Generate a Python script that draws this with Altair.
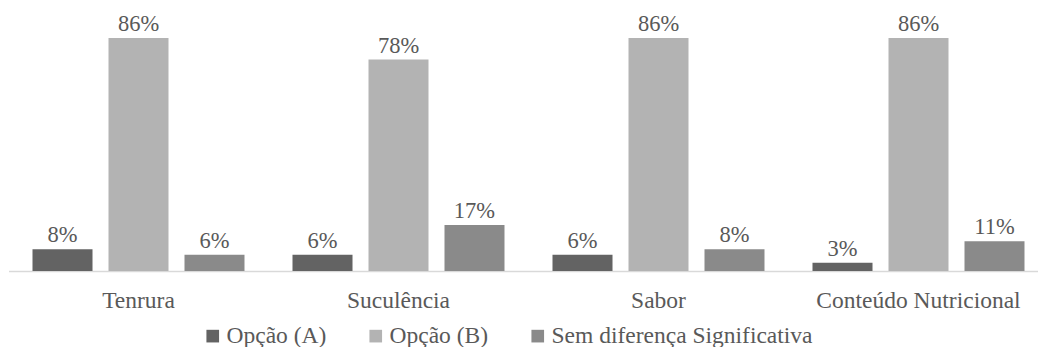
import altair as alt
import pandas as pd

# Survey results per attribute (percent of respondents)
categories = ["Tenrura", "Suculência", "Sabor", "Conteúdo Nutricional"]
series = ["Opção (A)", "Opção (B)", "Sem diferença Significativa"]
opcao_a = [8, 6, 6, 3]
opcao_b = [86, 78, 86, 86]
sem_diferenca = [6, 17, 8, 11]
colors = ["#636363", "#b3b3b3", "#8a8a8a"]

rows = []
for i, cat in enumerate(categories):
    for name, vals in zip(series, [opcao_a, opcao_b, sem_diferenca]):
        rows.append({"categoria": cat, "serie": name, "valor": vals[i],
                     "rotulo": f"{vals[i]}%"})
df = pd.DataFrame(rows)

font = "Liberation Serif"
text_color = "#595959"
font_size = 23.5

x = alt.X(
    "categoria:N",
    sort=categories,
    scale=alt.Scale(range=[0.5, 1040.5], paddingInner=0, paddingOuter=0),
    axis=alt.Axis(title=None, labelAngle=0, ticks=False, grid=False,
                  labelPadding=17, labelFont=font, labelFontSize=font_size,
                  labelColor=text_color, domainColor="#d9d9d9",
                  domainWidth=1.5, labelOverlap=False, labelLimit=0),
)
x_off = alt.XOffset("serie:N", sort=series,
                    scale=alt.Scale(paddingInner=0.2105, paddingOuter=0.3158))
y = alt.Y("valor:Q", scale=alt.Scale(domain=[0, 100]), axis=None)

bars = alt.Chart(df).mark_bar().encode(
    x=x,
    xOffset=x_off,
    y=y,
    color=alt.Color(
        "serie:N",
        sort=series,
        scale=alt.Scale(domain=series, range=colors),
        legend=alt.Legend(
            title=None, orient="none", direction="horizontal",
            legendX=193, legendY=324, padding=0,
            symbolType="square", symbolSize=160, symbolStrokeWidth=0,
            labelFont=font, labelFontSize=font_size, labelColor=text_color,
            labelOffset=2, columnPadding=37, labelLimit=0,
        ),
    ),
)

labels = alt.Chart(df).mark_text(
    baseline="alphabetic", dy=-7, font=font, fontSize=22.5,
    color=text_color,
).encode(x=x, xOffset=x_off, y=y, text="rotulo:N")

chart = (
    alt.layer(bars, labels)
    .properties(
        width=1030, height=271,
        autosize=alt.AutoSizeParams(type="none"),
        padding={"left": 8, "top": 0, "right": 0, "bottom": 76},
        background="white",
    )
    .configure(font=font)
    .configure_view(stroke=None)
)

chart.save("out.html", embed_options={"renderer": "svg", "actions": False})
